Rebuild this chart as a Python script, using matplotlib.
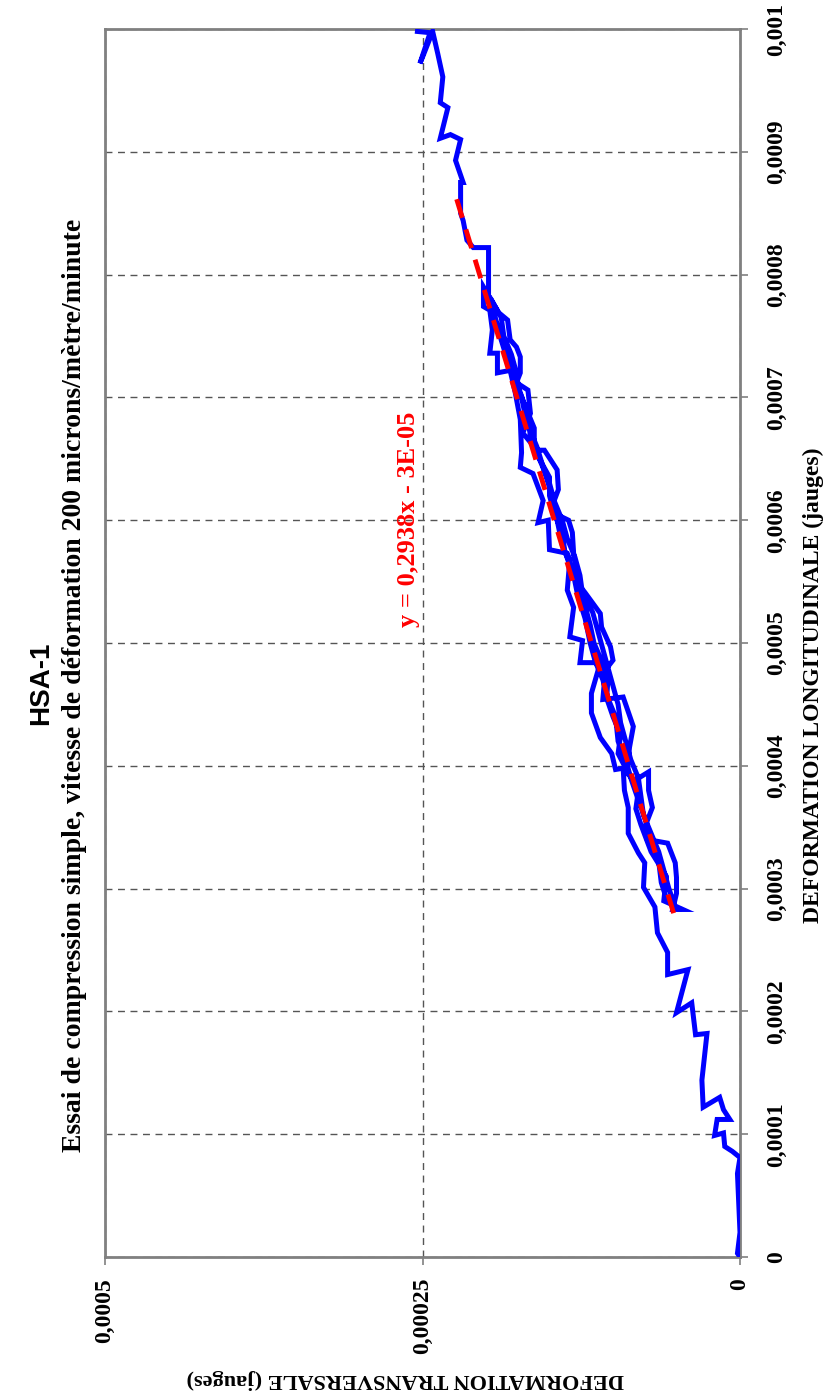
import numpy as np
import matplotlib
matplotlib.use("Agg")
import matplotlib.pyplot as plt

# strain values, in micro-strain (x 1e-6)
# longitudinal = vertical axis of the (rotated) chart, transverse = horizontal axis
load_long = [0, 3, 20, 68, 81, 86, 90, 101, 99, 112, 112, 120, 130, 122, 144, 182, 181, 207, 199, 234,
             230, 248, 264, 285, 301, 301, 321, 329, 345, 366, 380, 398, 397, 410, 423, 443, 459, 484, 484, 502,
             505, 529, 543, 568, 573, 576, 600, 598, 616, 638, 643, 655, 682, 704, 722, 720, 736, 736, 755, 771,
             774, 790]
load_trans = [0, 2, 0, 2, 0, 6, 12, 13, 20, 18, 8, 13, 16, 29, 30, 26, 35, 38, 50, 41,
              57, 57, 65, 67, 76, 76, 75, 80, 88, 88, 91, 92, 98, 101, 110, 117, 117, 110, 126, 124,
              134, 131, 136, 134, 136, 150, 151, 159, 155, 163, 173, 172, 173, 177, 181, 191, 191, 197, 195, 197,
              202, 202]

unload1_long = [769, 763, 747, 741, 733, 720, 712, 706, 687, 671, 657, 657, 641, 625, 614, 606, 600, 590, 573, 551,
                549, 541, 524, 513, 497, 486, 478, 454, 456, 432, 415, 394, 388, 395, 380, 366, 350, 340, 337, 321,
                309, 296, 283, 283]
unload1_trans = [190, 183, 181, 176, 173, 173, 176, 167, 165, 171, 160, 154, 144, 143, 147, 147, 135, 132, 131, 128,
                 128, 122, 110, 109, 102, 100, 106, 108, 92, 84, 87, 89, 83, 72, 72, 69, 75, 73, 57, 51,
                 50, 50, 53, 45]

reload1_long = [290, 310, 330, 352, 365, 380, 398, 410, 425, 440, 455, 470, 488, 500, 515, 530, 545, 560, 575, 590,
                605, 620, 635, 650, 665, 680, 695, 710, 725, 740, 755, 770, 785]
reload1_trans = [60, 58, 70, 78, 82, 80, 90, 96, 94, 100, 105, 104, 110, 115, 118, 122, 126, 133, 138, 140,
                 146, 150, 150, 158, 165, 166, 170, 175, 178, 185, 190, 194, 200]

unload2_long = [780, 765, 750, 735, 720, 705, 690, 675, 660, 645, 630, 615, 600, 585, 570, 555, 540, 525, 510, 495,
                480, 465, 450, 435, 420, 405, 390, 375, 360, 345, 330, 315, 300, 288]
unload2_trans = [196, 188, 186, 180, 176, 174, 168, 162, 162, 156, 150, 146, 140, 136, 130, 126, 124, 116, 112, 108,
                 104, 100, 96, 94, 90, 86, 80, 78, 76, 70, 64, 60, 56, 52]

reload2_long = [292, 305, 322, 338, 355, 372, 390, 405, 420, 440, 455, 470, 485, 500, 520, 540, 560, 580, 600, 620,
                640, 660, 680, 700, 720, 740, 760, 780]
reload2_trans = [58, 62, 64, 70, 74, 80, 86, 90, 96, 98, 104, 108, 114, 118, 122, 128, 132, 140, 144, 148,
                 154, 160, 168, 172, 180, 186, 192, 198]

final_long = [801, 822, 822, 828, 844, 850, 875, 875, 893, 910, 914, 911, 936, 940, 961, 980, 998, 977, 972, 997, 998]
final_trans = [198, 198, 210, 215, 218, 220, 220, 218, 224, 220, 228, 236, 230, 236, 234, 238, 242, 250, 252, 244, 254]

# linear trend shown on the chart
trend_slope = 0.2938
trend_icpt = -3e-05
trend_long_range = [0.00028, 0.000865]

long_ticks = [0, 0.0001, 0.0002, 0.0003, 0.0004, 0.0005, 0.0006, 0.0007, 0.0008, 0.0009, 0.001]
long_tick_labels = ["0", "0,0001", "0,0002", "0,0003", "0,0004", "0,0005",
                    "0,0006", "0,0007", "0,0008", "0,0009", "0,001"]
trans_ticks = [0, 0.00025, 0.0005]
trans_tick_labels = ["0", "0,00025", "0,0005"]

title = "HSA-1"
subtitle = "Essai de compression simple, vitesse de déformation 200 microns/mètre/minute"
long_label = "DEFORMATION LONGITUDINALE (jauges)"
trans_label = "DEFORMATION TRANSVERSALE (jauges)"
trend_label = "y = 0,2938x - 3E-05"

W, H = 834, 1393
fig = plt.figure(figsize=(W / 100, H / 100), dpi=100)
fig.patch.set_facecolor("white")

left, right, top, bottom = 105, 740, 29, 1257
ax = fig.add_axes([left / W, 1 - bottom / H, (right - left) / W, (bottom - top) / H])

serif = dict(family="Liberation Serif", weight="bold")

long_all = np.concatenate([load_long, unload1_long, reload1_long, unload2_long, reload2_long, final_long]) * 1e-6
trans_all = np.concatenate([load_trans, unload1_trans, reload1_trans, unload2_trans, reload2_trans, final_trans]) * 1e-6

ax.plot(trans_all, long_all, color="#0000ff", lw=3.6, solid_joinstyle="miter", zorder=3)

tl = np.array(trend_long_range)
ax.plot(trend_slope * tl + trend_icpt, tl, color="#ff0000", lw=3.5,
        dashes=(4, 2.5), zorder=4)

ax.set_xlim(0.0005, 0)
ax.set_ylim(0, 0.001)

ax.set_yticks(long_ticks)
ax.set_yticklabels(long_tick_labels, rotation=90, va="center", ha="left", fontsize=17, **serif)
ax.set_xticks(trans_ticks)
ax.set_xticklabels(trans_tick_labels, rotation=90, va="top", ha="center", fontsize=17, **serif)
ax.yaxis.tick_right()
ax.tick_params(axis="y", direction="out", length=6, width=1.2, color="#808080", pad=13)
ax.tick_params(axis="x", direction="out", length=6, width=1.2, color="#808080", pad=9)

ax.grid(True, color="#555555", lw=1, dashes=(5, 4))
ax.set_axisbelow(True)
for s in ax.spines.values():
    s.set_color("#808080")
    s.set_linewidth(2)

ax.text(0.000261, 0.000601, trend_label, rotation=90, color="#ff0000",
        ha="center", va="center", fontsize=19, **serif)

fig.text(41 / W, 1 - 683 / H, title, rotation=90, ha="center", va="center",
         fontsize=20, family="Liberation Sans", weight="bold")
fig.text(75 / W, 1 - 685 / H, subtitle, rotation=90, ha="center", va="center", fontsize=20, **serif)
fig.text(813 / W, 1 - 685 / H, long_label, rotation=90, ha="center", va="center", fontsize=17, **serif)
fig.text(405 / W, 1 - 1379 / H, trans_label, rotation=180, ha="center", va="center", fontsize=16, **serif)

fig.savefig("out.png", dpi=100)
